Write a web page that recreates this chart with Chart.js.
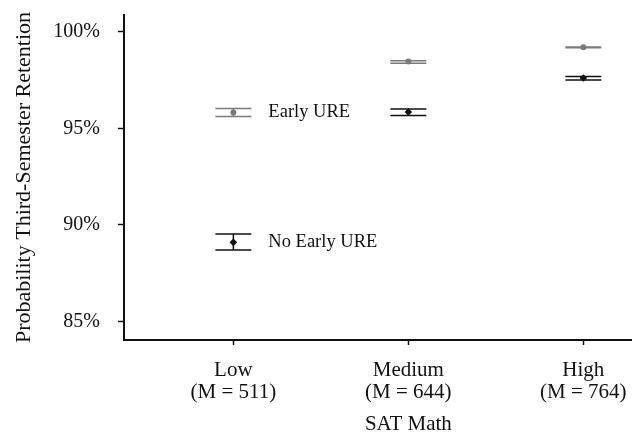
<!DOCTYPE html>
<html>
<head>
<meta charset="utf-8">
<script src="https://cdn.jsdelivr.net/npm/chart.js@4/dist/chart.umd.min.js"></script>
<style>
  html, body { margin: 0; padding: 0; background: #fff; }
  #wrap { width: 632px; height: 438px; position: relative; }
</style>
</head>
<body>
<div id="wrap"><canvas id="c"></canvas></div>
<script>
// ---- data ----
const categories = ['Low', 'Medium', 'High'];
const categoryMeans = ['(M = 511)', '(M = 644)', '(M = 764)'];
const yTicks = [85, 90, 95, 100];

const earlyMean = [95.82, 98.45, 99.19];
const earlyLo   = [95.61, 98.36, 99.17];
const earlyHi   = [96.03, 98.50, 99.21];

const noEarlyMean = [89.10, 95.84, 97.60];
const noEarlyLo   = [88.70, 95.66, 97.50];
const noEarlyHi   = [89.53, 96.00, 97.68];

const seriesNames = ['Early URE', 'No Early URE'];
const xTitle = 'SAT Math';
const yTitle = 'Probability Third-Semester Retention';

// ---- styling ----
const FONT = "'Liberation Serif', 'DejaVu Serif', serif";
const earlyColor = '#7a7a7a';
const noEarlyColor = '#111111';

const toPoints = (arr) => arr.map((v, i) => ({ x: i, y: v }));

const errorBars = {
  id: 'errorBars',
  beforeDatasetsDraw(chart) {
    const { ctx, scales: { x, y } } = chart;
    const sets = [
      { lo: earlyLo, hi: earlyHi, color: earlyColor },
      { lo: noEarlyLo, hi: noEarlyHi, color: noEarlyColor }
    ];
    const half = 18;
    ctx.save();
    sets.forEach(s => {
      ctx.strokeStyle = s.color;
      ctx.lineWidth = 1.5;
      s.lo.forEach((lo, i) => {
        const px = x.getPixelForValue(i);
        const pLo = y.getPixelForValue(lo);
        const pHi = y.getPixelForValue(s.hi[i]);
        ctx.beginPath();
        ctx.moveTo(px - half, pHi); ctx.lineTo(px + half, pHi);
        ctx.moveTo(px - half, pLo); ctx.lineTo(px + half, pLo);
        ctx.moveTo(px, pHi); ctx.lineTo(px, pLo);
        ctx.stroke();
      });
    });
    ctx.restore();
  },
  afterDraw(chart) {
    const { ctx, scales: { x, y } } = chart;
    ctx.save();
    ctx.fillStyle = '#111';
    ctx.font = '18.5px ' + FONT;
    ctx.textAlign = 'left';
    ctx.textBaseline = 'middle';
    ctx.fillText(seriesNames[0], x.getPixelForValue(0) + 35, y.getPixelForValue(earlyMean[0]));
    ctx.fillText(seriesNames[1], x.getPixelForValue(0) + 35, y.getPixelForValue(noEarlyMean[0]));
    ctx.font = '21px ' + FONT;
    ctx.textAlign = 'center';
    ctx.textBaseline = 'alphabetic';
    ctx.fillText(xTitle, x.getPixelForValue(1), 430);
    ctx.restore();
  }
};

new Chart(document.getElementById('c'), {
  type: 'scatter',
  data: {
    datasets: [
      {
        label: seriesNames[0],
        data: toPoints(earlyMean),
        pointStyle: 'circle',
        pointRadius: 3,
        pointHoverRadius: 3,
        backgroundColor: earlyColor,
        borderColor: earlyColor,
        borderWidth: 0
      },
      {
        label: seriesNames[1],
        data: toPoints(noEarlyMean),
        pointStyle: 'rectRot',
        pointRadius: 3.8,
        pointHoverRadius: 3.8,
        backgroundColor: noEarlyColor,
        borderColor: noEarlyColor,
        borderWidth: 0
      }
    ]
  },
  options: {
    responsive: true,
    maintainAspectRatio: false,
    animation: false,
    layout: { autoPadding: false, padding: { top: 15, right: 0, left: 0, bottom: 0 } },
    plugins: {
      legend: { display: false },
      tooltip: { enabled: false }
    },
    scales: {
      x: {
        type: 'linear',
        min: -0.625,
        max: 2.278,
        afterBuildTicks: (s) => { s.ticks = categories.map((c, i) => ({ value: i })); },
        afterFit: (s) => { s.height = 98; s.paddingLeft = 0; s.paddingRight = 0; },
        ticks: {
          autoSkip: false,
          maxRotation: 0,
          padding: 14,
          color: '#111',
          font: { family: FONT, size: 21, lineHeight: 1.05 },
          callback: (v) => {
            const i = Math.round(v);
            return [categories[i], categoryMeans[i]];
          }
        },
        grid: { drawOnChartArea: false, drawTicks: true, tickLength: 5, tickColor: '#111', tickWidth: 1.5 },
        border: { display: true, color: '#111', width: 2 }
      },
      y: {
        type: 'linear',
        min: 84.05,
        max: 100.86,
        afterBuildTicks: (s) => { s.ticks = yTicks.map(v => ({ value: v })); },
        afterFit: (s) => { s.width = 124; s.paddingTop = 0; s.paddingBottom = 0; },
        ticks: {
          padding: 18,
          color: '#111',
          font: { family: FONT, size: 20 },
          callback: (v) => v + '%'
        },
        title: {
          display: true,
          text: yTitle,
          color: '#111',
          font: { family: FONT, size: 22 },
          padding: { top: 11, bottom: 0 }
        },
        grid: { drawOnChartArea: false, drawTicks: true, tickLength: 6, tickColor: '#111', tickWidth: 1.5 },
        border: { display: true, color: '#111', width: 2 }
      }
    }
  },
  plugins: [errorBars]
});
</script>
</body>
</html>
